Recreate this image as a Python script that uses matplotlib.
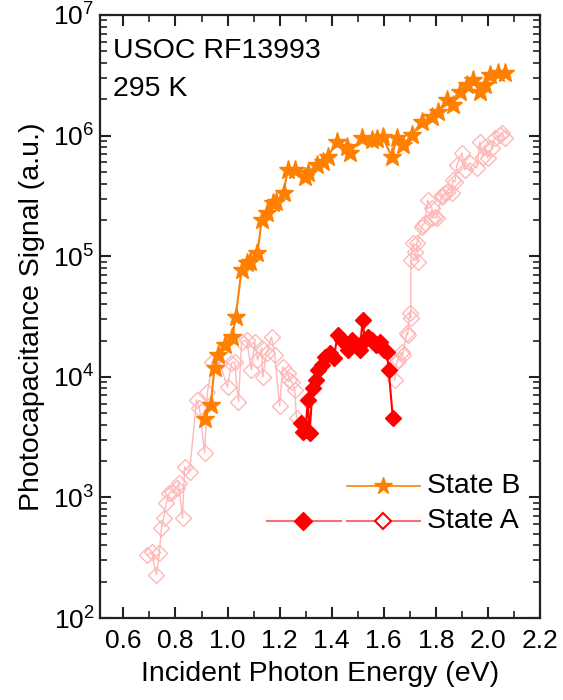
import numpy as np
import matplotlib
matplotlib.use("Agg")
import matplotlib.pyplot as plt
from matplotlib.ticker import LogLocator, MultipleLocator, FixedLocator, NullFormatter

plt.rcParams['font.family'] = ['Liberation Sans', 'DejaVu Sans']
plt.rcParams['mathtext.fontset'] = 'custom'
plt.rcParams['mathtext.rm'] = 'Liberation Sans'
plt.rcParams['mathtext.it'] = 'Liberation Sans'

# ---- State B (orange stars)
b_energy = [0.912, 0.935, 0.950, 0.965, 0.992, 1.019, 1.031, 1.054, 1.073, 1.088,
            1.115, 1.131, 1.150, 1.173, 1.188, 1.215, 1.231, 1.258, 1.296, 1.308,
            1.342, 1.365, 1.385, 1.419, 1.458, 1.469, 1.515, 1.554, 1.573, 1.596,
            1.631, 1.650, 1.673, 1.708, 1.746, 1.785, 1.808, 1.842, 1.865, 1.892,
            1.919, 1.942, 1.969, 1.988, 2.008, 2.038, 2.065]
b_signal = [4470, 5830, 11830, 15170, 18370, 21380, 31330, 76910, 87900, 89540,
            106400, 199500, 228000, 276100, 281200, 334200, 518800, 518800, 453900, 489800,
            570200, 603900, 665300, 885100, 803500, 717800, 955000, 920400, 937600, 972800,
            665300, 955000, 835700, 1.012e6, 1.297e6, 1.426e6, 1.570e6, 1.972e6, 1.795e6, 2.301e6,
            2.630e6, 2.891e6, 2.301e6, 2.630e6, 3.177e6, 3.304e6, 3.304e6]

# ---- State A, filled diamonds
a_fill_energy = [1.281, 1.288, 1.300, 1.308, 1.315, 1.327, 1.338, 1.346, 1.362, 1.373,
                 1.392, 1.408, 1.423, 1.438, 1.450, 1.462, 1.477, 1.492, 1.508, 1.519,
                 1.527, 1.538, 1.554, 1.569, 1.585, 1.600, 1.612, 1.619, 1.635]
a_fill_signal = [4140, 3480, 3620, 6430, 3420, 8070, 9400, 11380, 12530, 14590,
                 15740, 14320, 22230, 20180, 19050, 16670, 20180, 18370, 16670, 29580,
                 20180, 21380, 20180, 18370, 19450, 16670, 16070, 11380, 4550]

# ---- State A, open diamonds (low-energy part, then high-energy part)
a_open_energy_1 = [0.692, 0.708, 0.727, 0.738, 0.746, 0.754, 0.765, 0.777, 0.788, 0.804,
                   0.812, 0.827, 0.835, 0.854, 0.881, 0.892, 0.912, 0.923, 0.942, 0.969,
                   1.000, 1.015, 1.027, 1.042, 1.054, 1.073, 1.092, 1.104, 1.115, 1.131,
                   1.135, 1.150, 1.169, 1.181, 1.200, 1.212, 1.231, 1.238, 1.246, 1.258,
                   1.265]
a_open_signal_1 = [333, 352, 228, 346, 557, 675, 899, 1090, 1110, 1200,
                   1315, 675, 1790, 1625, 6430, 5510, 2335, 7480, 13270, 13000,
                   8230, 13000, 13270, 6180, 19450, 20180, 11380, 19450, 13770, 17330,
                   9950, 15740, 21380, 15170, 5730, 12050, 10770, 9400, 9060, 7780,
                   4550]
a_open_energy_2 = [1.642, 1.650, 1.654, 1.669, 1.673, 1.688, 1.692, 1.700, 1.704, 1.704,
                   1.712, 1.719, 1.731, 1.727, 1.746, 1.750, 1.758, 1.769, 1.785, 1.785,
                   1.796, 1.804, 1.823, 1.823, 1.835, 1.842, 1.862, 1.865, 1.873, 1.881,
                   1.900, 1.912, 1.931, 1.958, 1.969, 1.981, 1.988, 2.000, 2.015, 2.027,
                   2.046, 2.054, 2.065]
a_open_signal_2 = [9400, 13270, 13770, 16070, 15170, 23070, 22230, 33810, 30760, 92960,
                   128500, 108400, 89540, 128500, 174600, 181500, 188400, 292400, 251200, 207500,
                   211300, 207500, 321400, 309700, 334200, 340400, 334200, 428500, 412100, 570200,
                   717800, 518800, 592900, 538300, 885100, 665300, 803500, 651600, 788900, 955000,
                   1.012e6, 1.052e6, 955000]

sample_text = "USOC RF13993\n295 K"
x_label = "Incident Photon Energy (eV)"
y_label = "Photocapacitance Signal (a.u.)"
legend_labels = ["State B", "State A"]
x_ticks = [0.6, 0.8, 1.0, 1.2, 1.4, 1.6, 1.8, 2.0, 2.2]

ORANGE = '#FF8000'
RED = '#FF0000'
PINK = '#FFB8B8'
LEG_RED = '#F87070'

fig = plt.figure(figsize=(5.63, 7.0), dpi=100)
ax = fig.add_axes([0.1776, 0.1171, 0.7814, 0.8615])

# open diamonds (faint)
for xe, ys in [(a_open_energy_1, a_open_signal_1), (a_open_energy_2, a_open_signal_2)]:
    ax.plot(xe, ys, '-', color=PINK, lw=1.0, marker='D', ms=8.5, mfc='none',
            mec=PINK, mew=1.0, zorder=2)
# filled diamonds
ax.plot(a_fill_energy, a_fill_signal, '-', color=RED, lw=1.5, marker='D', ms=8.5,
        mfc=RED, mec=RED, zorder=3)
# stars
ax.plot(b_energy, b_signal, '-', color=ORANGE, lw=1.5, marker='*', ms=14,
        mfc=ORANGE, mec=ORANGE, zorder=4)

ax.set_yscale('log')
ax.set_ylim(1e2, 1e7)
ax.set_xlim(0.51, 2.2)
ax.xaxis.set_major_locator(FixedLocator(x_ticks))
ax.xaxis.set_minor_locator(MultipleLocator(0.1))
ax.set_xticklabels([f"{t:.1f}" for t in x_ticks])
ax.yaxis.set_major_locator(LogLocator(base=10, numticks=10))
ax.yaxis.set_minor_locator(LogLocator(base=10, subs=np.arange(2, 10), numticks=20))
ax.yaxis.set_minor_formatter(NullFormatter())

ax.tick_params(which='both', direction='in', top=True, right=True, colors='#222222',
               labelcolor='black', labelsize=19)
ax.tick_params(which='major', length=8, width=1.5)
ax.tick_params(which='minor', length=5, width=1.2)
ax.tick_params(axis='x', pad=8)
ax.tick_params(axis='y', pad=4)
for s in ax.spines.values():
    s.set_linewidth(1.6)
    s.set_color('#222222')

ax.set_xlabel(x_label, fontsize=20.5, labelpad=6)
ax.set_ylabel(y_label, fontsize=20.5, labelpad=6)

ax.text(0.03, 0.962, sample_text, transform=ax.transAxes, fontsize=20.5,
        va='top', ha='left', linespacing=1.6)

# legend drawn by hand
tr = ax.transAxes
ax.plot([0.561, 0.727], [0.219, 0.219], color=ORANGE, lw=1.2, transform=tr, clip_on=False)
ax.plot([0.643], [0.219], marker='*', ms=13, color=ORANGE, transform=tr, clip_on=False)
ax.plot([0.380, 0.548], [0.161, 0.161], color=LEG_RED, lw=1.5, transform=tr, clip_on=False)
ax.plot([0.461], [0.161], marker='D', ms=9, color=RED, transform=tr, clip_on=False)
ax.plot([0.561, 0.727], [0.161, 0.161], color=LEG_RED, lw=1.5, transform=tr, clip_on=False)
ax.plot([0.643], [0.161], marker='D', ms=8, mfc='white', mec=RED, mew=1.5,
        transform=tr, clip_on=False)
ax.text(0.743, 0.219, legend_labels[0], transform=tr, fontsize=20.5, va='center', ha='left')
ax.text(0.743, 0.161, legend_labels[1], transform=tr, fontsize=20.5, va='center', ha='left')

fig.savefig('out.png', dpi=100)
